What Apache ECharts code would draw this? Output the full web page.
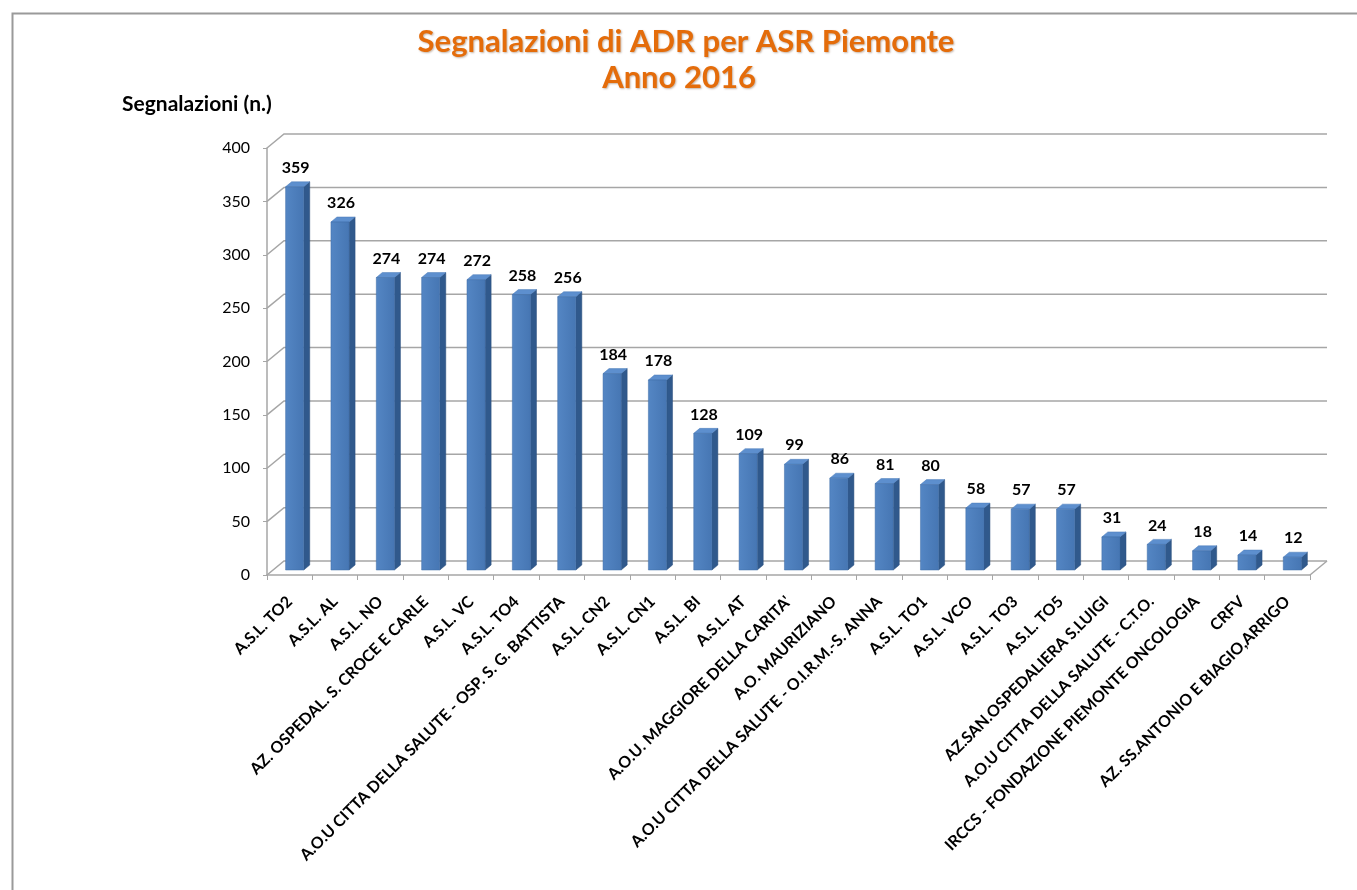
<!DOCTYPE html>
<html>
<head>
<meta charset="utf-8">
<script src="https://cdn.jsdelivr.net/npm/echarts@6/dist/echarts.min.js"></script>
<style>
html,body{margin:0;padding:0;background:#fff;}
#chart{width:1357px;height:890px;}
</style>
</head>
<body>
<div id="chart"></div>
<script>
const categories = [
  'A.S.L. TO2', 'A.S.L. AL', 'A.S.L. NO', 'AZ. OSPEDAL. S. CROCE E CARLE', 'A.S.L. VC',
  'A.S.L. TO4', 'A.O.U CITTA DELLA SALUTE - OSP. S. G. BATTISTA', 'A.S.L. CN2', 'A.S.L. CN1',
  'A.S.L. BI', 'A.S.L. AT', "A.O.U. MAGGIORE DELLA CARITA'", 'A.O. MAURIZIANO',
  'A.O.U CITTA DELLA SALUTE - O.I.R.M.-S. ANNA', 'A.S.L. TO1', 'A.S.L. VCO', 'A.S.L. TO3',
  'A.S.L. TO5', 'AZ.SAN.OSPEDALIERA S.LUIGI', 'A.O.U CITTA DELLA SALUTE - C.T.O.',
  'IRCCS - FONDAZIONE PIEMONTE ONCOLOGIA', 'CRFV', 'AZ. SS.ANTONIO E BIAGIO,ARRIGO'
];
const values = [359, 326, 274, 274, 272, 258, 256, 184, 178, 128, 109, 99, 86, 81, 80, 58, 57, 57, 31, 24, 18, 14, 12];
const yTicks = [0, 50, 100, 150, 200, 250, 300, 350, 400];
const titleLines = ['Segnalazioni di ADR per ASR Piemonte', 'Anno 2016'];
const yAxisTitle = 'Segnalazioni (n.)';

const DX = 17, DY = -14;       // depth of the 3D walls
const BOX = 5, BOY = -5;       // bar front-face offset
const BDX = 6, BDY = -5;       // bar depth
const GRID_COLOR = '#a6a6a6';
const FONT = 'Lato, "Open Sans", sans-serif';
const TITLE_COLOR = '#e46c0a';

const chart = echarts.init(document.getElementById('chart'), null, {renderer: 'canvas'});

function wallsRender(params, api) {
  const cs = params.coordSys;
  const x0 = cs.x, x1 = cs.x + cs.width;
  const children = [];
  yTicks.forEach(function (v) {
    const y = api.coord([0, v])[1];
    children.push({
      type: 'polyline',
      shape: {points: [[x0, y], [x0 + DX, y + DY], [x1 + DX, y + DY]]},
      style: {stroke: GRID_COLOR, lineWidth: 1.5, fill: null},
      silent: true
    });
  });
  const yb = api.coord([0, 0])[1];
  children.push({
    type: 'line',
    shape: {x1: x1, y1: yb, x2: x1 + DX, y2: yb + DY},
    style: {stroke: GRID_COLOR, lineWidth: 1.5},
    silent: true
  });
  return {type: 'group', children: children};
}

function barRender(params, api) {
  const idx = api.value(0);
  const val = api.value(1);
  const top = api.coord([idx, val]);
  const bot = api.coord([idx, 0]);
  const cw = api.size([1, 0])[0];
  const bw = cw * 0.4;
  const x = top[0] - bw / 2 + BOX;
  const yt = top[1] + BOY;
  const yb = bot[1] + BOY;
  return {
    type: 'group',
    children: [
      {
        type: 'polygon',
        shape: {points: [[x + bw, yt], [x + bw + BDX, yt + BDY], [x + bw + BDX, yb + BDY], [x + bw, yb]]},
        style: {fill: '#30598c', stroke: '#2a4f7d', lineWidth: 0.5}
      },
      {
        type: 'polygon',
        shape: {points: [[x, yt], [x + BDX, yt + BDY], [x + bw + BDX, yt + BDY], [x + bw, yt]]},
        style: {fill: '#5d8fce', stroke: '#4a7bb8', lineWidth: 0.5}
      },
      {
        type: 'rect',
        shape: {x: x, y: yt, width: bw, height: yb - yt},
        style: {
          fill: new echarts.graphic.LinearGradient(0, 0, 1, 0, [
            {offset: 0, color: '#5486c4'},
            {offset: 1, color: '#4676b3'}
          ]),
          stroke: '#3f6ca6', lineWidth: 0.5
        }
      },
      {
        type: 'text',
        style: {
          x: x + bw / 2 + 1, y: yt - 11,
          text: String(val),
          fill: '#000', font: 'bold 16px ' + FONT,
          textAlign: 'center', textVerticalAlign: 'bottom'
        }
      }
    ]
  };
}

const option = {
  backgroundColor: '#ffffff',
  animation: false,
  graphic: [
    {
      type: 'rect', left: 10, top: 11, z: -10,
      shape: {x: 0, y: 0, width: 1400, height: 1000},
      style: {fill: null, stroke: '#9a9a9a', lineWidth: 2}
    },
    {
      type: 'text', x: 686, y: 42,
      style: {
        text: titleLines[0], fill: TITLE_COLOR,
        font: 'bold 31px ' + FONT,
        textAlign: 'center', textVerticalAlign: 'middle',
        textShadowColor: 'rgba(90,40,0,0.35)', textShadowBlur: 2, textShadowOffsetX: 1, textShadowOffsetY: 1
      }
    },
    {
      type: 'text', x: 679, y: 78,
      style: {
        text: titleLines[1], fill: TITLE_COLOR,
        font: 'bold 31px ' + FONT,
        textAlign: 'center', textVerticalAlign: 'middle',
        textShadowColor: 'rgba(90,40,0,0.35)', textShadowBlur: 2, textShadowOffsetX: 1, textShadowOffsetY: 1
      }
    },
    {
      type: 'text', x: 122, y: 104,
      style: {
        text: yAxisTitle, fill: '#000',
        font: 'bold 21px ' + FONT,
        textAlign: 'left', textVerticalAlign: 'middle'
      }
    }
  ],
  grid: {left: 267, right: 47, top: 148, bottom: 315, containLabel: false},
  xAxis: {
    type: 'category',
    data: categories,
    boundaryGap: true,
    axisLine: {show: true, lineStyle: {color: GRID_COLOR, width: 1.5}},
    axisTick: {show: true, length: 5, alignWithLabel: false, lineStyle: {color: GRID_COLOR}},
    axisLabel: {
      interval: 0, rotate: 45, margin: 24,
      color: '#000', fontWeight: 'bold', fontSize: 16,
      fontFamily: FONT
    },
    splitLine: {show: false}
  },
  yAxis: {
    type: 'value',
    min: 0, max: 400, interval: 50,
    axisLine: {show: true, lineStyle: {color: GRID_COLOR, width: 1.5}},
    axisTick: {show: true, length: 4, lineStyle: {color: GRID_COLOR}},
    axisLabel: {color: '#000', fontSize: 16, margin: 17, fontFamily: FONT},
    splitLine: {show: false}
  },
  series: [
    {
      type: 'custom', z: 1, silent: true,
      renderItem: wallsRender,
      data: [[0, 0]]
    },
    {
      type: 'custom', z: 2,
      renderItem: barRender,
      encode: {x: 0, y: 1},
      data: values.map(function (v, i) { return [i, v]; })
    }
  ]
};
chart.setOption(option);
</script>
</body>
</html>
